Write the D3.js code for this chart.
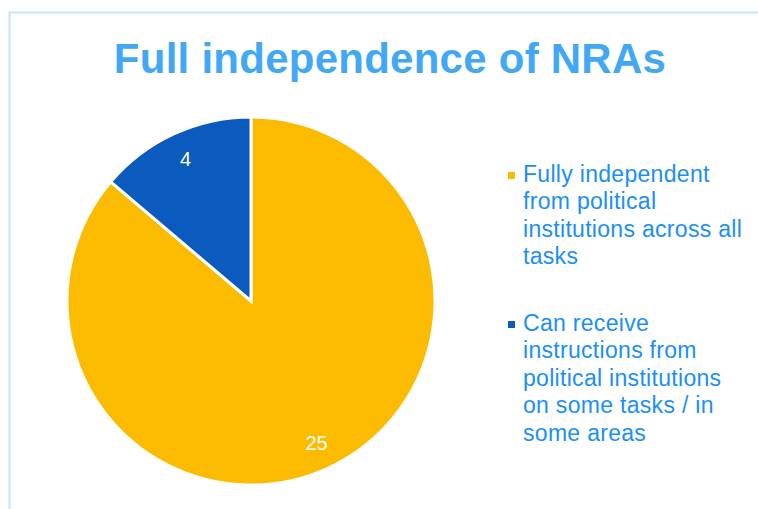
<!DOCTYPE html>
<html>
<head>
<meta charset="utf-8">
<script src="https://cdn.jsdelivr.net/npm/d3@7"></script>
<style>
  html, body { margin: 0; padding: 0; background: #fff; }
  svg { display: block; }
</style>
</head>
<body>
<script>
// Chart data
const categories = [
  "Fully independent from political institutions across all tasks",
  "Can receive instructions from political institutions on some tasks / in some areas"
];
const values = [25, 4];
const legendLines = [
  ["Fully independent", "from political", "institutions across all", "tasks"],
  ["Can receive", "instructions from", "political institutions", "on some tasks / in", "some areas"]
];
const colors = ["#FBBB00", "#0A5BBD"];
const title = "Full independence of NRAs";

const W = 758, H = 509;
const svg = d3.select("body").append("svg").attr("width", W).attr("height", H);

// frame
svg.append("path")
  .attr("d", `M9.5,${H} V12.5 H${W}`)
  .attr("fill", "none").attr("stroke", "#C6E3FA").attr("stroke-width", 2);

// title
svg.append("text")
  .attr("x", 390).attr("y", 73)
  .attr("text-anchor", "middle")
  .attr("font-family", "Liberation Sans, Arial, sans-serif")
  .attr("font-weight", "bold").attr("font-size", 42)
  .attr("letter-spacing", 0.25)
  .attr("fill", "#42A8F6")
  .text(title);

// pie
const cx = 251, cy = 301, R = 184;
const pie = d3.pie().sort(null)
  .startAngle(0).endAngle(2 * Math.PI)
  .value(d => d);
const arcs = pie(values);
const arc = d3.arc().innerRadius(0).outerRadius(R);
const labelArc = d3.arc().innerRadius(156).outerRadius(156);

const g = svg.append("g").attr("transform", `translate(${cx},${cy})`);
g.selectAll("path").data(arcs).enter().append("path")
  .attr("d", arc)
  .attr("fill", (d, i) => colors[i])
  .attr("stroke", "#fff").attr("stroke-width", 3).attr("stroke-linejoin", "miter");

g.selectAll("text.lbl").data(arcs).enter().append("text")
  .attr("class", "lbl")
  .attr("transform", d => `translate(${labelArc.centroid(d)})`)
  .attr("text-anchor", "middle").attr("dy", "0.35em")
  .attr("font-family", "Liberation Sans, Arial, sans-serif")
  .attr("font-size", 20).attr("fill", "#fff")
  .text(d => d.data);

// legend
const legendTop = [182, 331];
const lineH = 27.4;
const lg = svg.append("g");
legendLines.forEach((lines, i) => {
  lg.append("rect")
    .attr("x", 508).attr("y", legendTop[i] - 10)
    .attr("width", 7).attr("height", 7)
    .attr("fill", colors[i]);
  const t = lg.append("text")
    .attr("font-family", "Liberation Sans, Arial, sans-serif")
    .attr("font-size", 23).attr("letter-spacing", 0.3)
    .attr("fill", "#1A8FFA");
  lines.forEach((s, j) => {
    t.append("tspan").attr("x", 523).attr("y", legendTop[i] + j * lineH).text(s);
  });
});
</script>
</body>
</html>
